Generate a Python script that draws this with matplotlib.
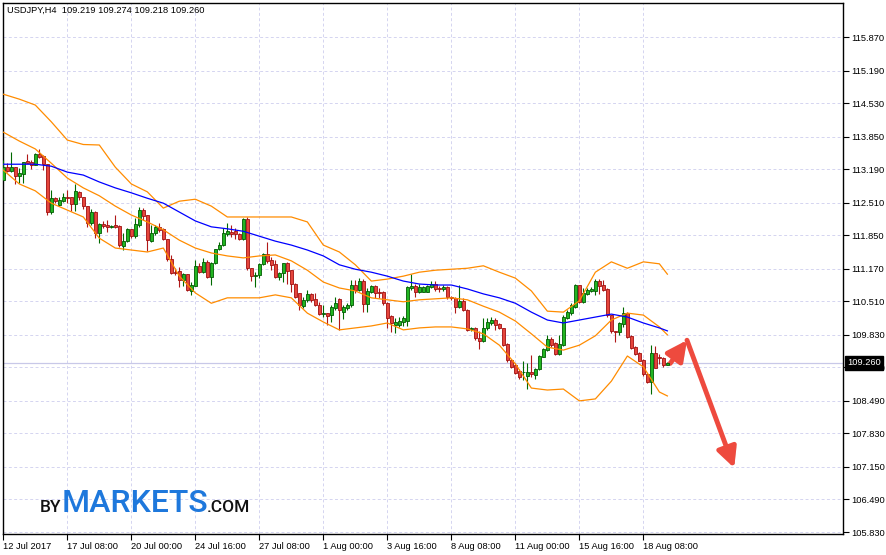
import numpy as np
import matplotlib.pyplot as plt
import matplotlib.patheffects as pe
from matplotlib.transforms import blended_transform_factory

# USDJPY H4 candles, oldest first
opens = [
    112.98, 113.23, 113.16, 113.23, 113.06, 113.10, 113.35, 113.33, 113.28, 113.49,
    113.46, 113.29, 112.33, 112.60, 112.46, 112.54, 112.63, 112.62, 112.48, 112.73,
    112.62, 112.44, 112.09, 112.33, 111.89, 112.07, 112.06, 112.02, 112.06, 112.04,
    111.63, 111.73, 111.97, 111.84, 112.06, 112.36, 112.26, 111.74, 111.90, 112.02,
    111.97, 111.77, 111.36, 111.11, 111.12, 110.94, 111.06, 110.72, 110.83, 111.22,
    111.10, 111.30, 111.01, 111.28, 111.57, 111.65, 111.87, 111.92, 111.93, 111.87,
    111.77, 112.17, 111.18, 111.02, 111.04, 111.27, 111.47, 111.35, 111.26, 111.01,
    111.09, 111.28, 111.14, 110.86, 110.67, 110.42, 110.54, 110.66, 110.55, 110.43,
    110.26, 110.28, 110.23, 110.38, 110.55, 110.30, 110.38, 110.43, 110.85, 110.74,
    110.92, 110.45, 110.70, 110.82, 110.69, 110.70, 110.47, 110.21, 110.03, 110.03,
    110.10, 110.12, 110.77, 110.82, 110.70, 110.70, 110.70, 110.79, 110.87, 110.77,
    110.75, 110.79, 110.60, 110.58, 110.39, 110.52, 110.33, 109.95, 109.97, 109.77,
    109.70, 109.96, 110.06, 110.13, 110.05, 109.96, 109.64, 109.32, 109.22, 109.10,
    109.07, 109.00, 109.08, 109.01, 109.14, 109.39, 109.52, 109.74, 109.66, 109.44,
    109.62, 110.18, 110.27, 110.40, 110.84, 110.50, 110.66, 110.72, 110.72, 110.92,
    110.84, 110.75, 110.23, 109.90, 109.88, 110.04, 110.27, 109.81, 109.59, 109.47,
    109.32, 109.03, 108.88, 109.47, 109.39, 109.35, 109.219,
]
highs = [
    113.37, 113.32, 113.54, 113.23, 113.21, 113.34, 113.50, 113.37, 113.52, 113.59,
    113.48, 113.29, 112.77, 112.63, 112.63, 112.70, 112.77, 112.62, 112.88, 112.75,
    112.63, 112.45, 112.39, 112.34, 112.09, 112.14, 112.16, 112.06, 112.26, 112.05,
    111.89, 111.99, 111.98, 112.19, 112.43, 112.41, 112.27, 112.06, 112.06, 112.09,
    111.99, 111.78, 111.45, 111.18, 111.21, 111.09, 111.07, 110.91, 111.35, 111.28,
    111.38, 111.35, 111.31, 111.58, 111.72, 111.99, 112.09, 112.06, 111.99, 111.90,
    112.19, 112.21, 111.18, 111.11, 111.29, 111.48, 111.72, 111.41, 111.35, 111.11,
    111.29, 111.31, 111.14, 110.89, 110.67, 110.60, 110.74, 110.68, 110.67, 110.50,
    110.43, 110.28, 110.43, 110.60, 110.57, 110.43, 110.47, 110.94, 110.94, 110.99,
    110.97, 110.77, 110.84, 110.85, 110.77, 110.72, 110.50, 110.23, 110.18, 110.20,
    110.22, 110.81, 111.06, 110.87, 110.87, 110.83, 110.85, 110.92, 110.92, 110.81,
    110.85, 110.81, 110.62, 110.60, 110.84, 110.58, 110.35, 109.99, 109.99, 109.90,
    110.18, 110.18, 110.20, 110.18, 110.06, 109.97, 109.66, 109.34, 109.25, 109.14,
    109.29, 109.25, 109.42, 109.16, 109.42, 109.57, 109.83, 109.79, 109.68, 109.83,
    110.23, 110.33, 110.48, 110.87, 110.85, 110.77, 110.77, 110.79, 110.96, 110.96,
    110.94, 110.77, 110.24, 109.91, 110.10, 110.39, 110.29, 109.83, 109.61, 109.49,
    109.34, 109.05, 109.62, 109.61, 109.45, 109.39, 109.274,
]
lows = [
    112.97, 113.14, 113.14, 112.89, 112.90, 112.90, 113.31, 113.19, 113.27, 113.41,
    113.17, 112.26, 112.29, 112.50, 112.44, 112.53, 112.51, 112.35, 112.35, 112.56,
    112.39, 112.01, 112.06, 111.79, 111.70, 111.99, 111.92, 111.99, 111.99, 111.62,
    111.55, 111.72, 111.79, 111.79, 112.01, 112.16, 111.52, 111.72, 111.85, 111.92,
    111.75, 111.33, 111.06, 111.04, 110.79, 110.81, 110.72, 110.64, 110.81, 111.08,
    111.08, 110.99, 110.85, 111.27, 111.55, 111.63, 111.84, 111.82, 111.77, 111.75,
    111.75, 111.14, 110.93, 110.79, 110.99, 111.25, 111.28, 111.14, 110.99, 110.95,
    110.91, 110.86, 110.69, 110.57, 110.33, 110.37, 110.50, 110.50, 110.42, 110.23,
    110.20, 110.03, 110.10, 110.33, 109.93, 110.16, 110.33, 110.40, 110.67, 110.72,
    110.30, 110.30, 110.67, 110.57, 110.57, 110.43, 109.96, 109.88, 109.86, 109.99,
    110.01, 110.01, 110.74, 110.60, 110.67, 110.69, 110.69, 110.77, 110.72, 110.70,
    110.72, 110.56, 110.54, 110.27, 110.37, 110.31, 109.91, 109.90, 109.72, 109.54,
    109.68, 109.93, 110.03, 109.93, 109.94, 109.61, 109.27, 109.16, 109.03, 108.93,
    108.91, 108.74, 108.98, 108.93, 109.12, 109.37, 109.50, 109.59, 109.42, 109.42,
    109.61, 110.15, 110.24, 110.38, 110.48, 110.47, 110.64, 110.70, 110.64, 110.65,
    110.72, 110.20, 109.87, 109.68, 109.83, 109.99, 109.77, 109.54, 109.42, 109.29,
    109.00, 108.85, 108.62, 109.15, 109.23, 109.18, 109.218,
]
closes = [
    113.23, 113.16, 113.23, 113.06, 113.11, 113.34, 113.32, 113.28, 113.49, 113.44,
    113.29, 112.33, 112.60, 112.54, 112.56, 112.63, 112.61, 112.48, 112.75, 112.63,
    112.44, 112.09, 112.33, 111.89, 112.07, 112.04, 112.01, 112.04, 112.02, 111.65,
    111.73, 111.97, 111.84, 112.07, 112.36, 112.24, 111.75, 111.90, 112.02, 111.95,
    111.77, 111.36, 111.09, 111.09, 110.94, 111.06, 110.74, 110.84, 111.22, 111.10,
    111.30, 111.01, 111.28, 111.57, 111.65, 111.89, 111.94, 111.87, 111.87, 111.77,
    112.17, 111.18, 111.02, 111.05, 111.27, 111.47, 111.33, 111.25, 111.01, 111.09,
    111.28, 111.13, 110.86, 110.59, 110.43, 110.54, 110.66, 110.54, 110.43, 110.26,
    110.28, 110.22, 110.40, 110.47, 110.33, 110.40, 110.43, 110.85, 110.74, 110.92,
    110.45, 110.72, 110.82, 110.68, 110.68, 110.47, 110.18, 110.06, 110.10, 110.11,
    110.18, 110.79, 110.82, 110.70, 110.79, 110.79, 110.81, 110.87, 110.75, 110.75,
    110.79, 110.60, 110.57, 110.39, 110.52, 110.33, 109.93, 109.97, 109.76, 109.70,
    109.96, 110.08, 110.13, 110.03, 109.96, 109.62, 109.32, 109.18, 109.05, 108.98,
    109.08, 109.08, 109.03, 109.14, 109.40, 109.54, 109.74, 109.62, 109.44, 109.64,
    110.20, 110.29, 110.43, 110.84, 110.50, 110.67, 110.74, 110.76, 110.92, 110.81,
    110.74, 110.23, 109.90, 109.88, 110.06, 110.27, 109.79, 109.57, 109.45, 109.30,
    109.03, 108.88, 109.47, 109.16, 109.35, 109.22, 109.260,
]

# indicator lines, read every 4th bar (last one at bar 166)
band_bars = list(range(0, 165, 4)) + [166]
bb_upper = [
    114.71, 114.61, 114.49, 114.15, 113.78, 113.69, 113.68, 113.23, 112.89, 112.73,
    112.40, 112.54, 112.58, 112.44, 112.22, 112.22, 112.22, 112.22, 112.22, 112.12,
    111.65, 111.51, 111.25, 110.92, 110.96, 111.02, 111.10, 111.14, 111.16, 111.18,
    111.23, 111.10, 110.98, 110.72, 110.31, 110.29, 110.52, 111.10, 111.31, 111.18,
    111.31, 111.27, 111.06,
]
bb_middle = [
    113.94, 113.76, 113.60, 113.31, 113.01, 112.81, 112.65, 112.44, 112.26, 112.12,
    111.96, 111.75, 111.59, 111.49, 111.43, 111.39, 111.43, 111.45, 111.33, 111.14,
    110.90, 110.78, 110.72, 110.58, 110.54, 110.50, 110.54, 110.56, 110.58, 110.54,
    110.41, 110.29, 110.11, 109.85, 109.58, 109.52, 109.62, 109.81, 110.13, 110.27,
    110.23, 109.99, 109.83,
]
bb_lower = [
    113.17, 112.89, 112.75, 112.50, 112.36, 112.22, 111.79, 111.59, 111.55, 111.51,
    111.59, 111.02, 110.68, 110.47, 110.58, 110.58, 110.58, 110.64, 110.58, 110.27,
    110.09, 109.93, 109.97, 110.01, 110.07, 109.93, 109.97, 109.99, 109.99, 109.95,
    109.85, 109.62, 109.24, 108.75, 108.71, 108.73, 108.49, 108.53, 108.89, 109.40,
    109.18, 108.67, 108.59,
]
ma_line = [
    113.29, 113.29, 113.29, 113.25, 113.13, 113.07, 112.93, 112.81, 112.71, 112.60,
    112.50, 112.32, 112.14, 112.02, 111.98, 111.93, 111.83, 111.73, 111.65, 111.55,
    111.43, 111.25, 111.16, 111.10, 111.02, 110.92, 110.86, 110.84, 110.84, 110.76,
    110.66, 110.58, 110.47, 110.29, 110.13, 110.07, 110.13, 110.19, 110.25, 110.19,
    110.07, 109.97, 109.91,
]

price_ticks = [115.870, 115.190, 114.530, 113.850, 113.190, 112.510, 111.850, 111.170,
               110.510, 109.830, 109.170, 108.490, 107.830, 107.150, 106.490, 105.830]
time_ticks = list(range(0, 161, 16))
time_labels = ["12 Jul 2017", "17 Jul 08:00", "20 Jul 00:00", "24 Jul 16:00",
               "27 Jul 08:00", "1 Aug 00:00", "3 Aug 16:00", "8 Aug 08:00",
               "11 Aug 00:00", "15 Aug 16:00", "18 Aug 08:00"]
last_price = 109.260

plt.rcParams['font.family'] = ['Liberation Sans', 'DejaVu Sans']

W, H = 886, 555
fig = plt.figure(figsize=(W / 100, H / 100), dpi=100)
ax = fig.add_axes([3 / W, 21 / H, 840 / W, 531 / H])

o = np.array(opens)
hi = np.array(highs)
lo = np.array(lows)
c = np.array(closes)
bars = np.arange(len(o))
up = c >= o

ax.vlines(bars[up], lo[up], hi[up], color='#006a00', lw=0.8, zorder=3)
ax.vlines(bars[~up], lo[~up], hi[~up], color='#b01818', lw=0.8, zorder=3)
ax.bar(bars[up], (c - o)[up], bottom=o[up], width=0.62, color='#22b522',
       edgecolor='#005a00', lw=0.6, zorder=4)
ax.bar(bars[~up], (c - o)[~up], bottom=o[~up], width=0.62, color='#e5453c',
       edgecolor='#a01010', lw=0.6, zorder=4)

ax.plot(band_bars, bb_upper, color='#ff8c00', lw=0.9, zorder=5)
ax.plot(band_bars, bb_middle, color='#ff8c00', lw=0.9, zorder=5)
ax.plot(band_bars, bb_lower, color='#ff8c00', lw=0.9, zorder=5)
ax.plot(band_bars, ma_line, color='#0000ff', lw=0.9, zorder=5)

ax.axhline(last_price, color='#c8c8e8', lw=0.9, zorder=1)

ax.set_xlim(-0.075, 209.9)
ax.set_ylim(105.79, 116.56)

ax.set_yticks(price_ticks)
ax.set_yticklabels(["%.3f" % p for p in price_ticks])
ax.yaxis.tick_right()
ax.set_xticks(time_ticks)
ax.set_xticklabels(time_labels, ha='left')
ax.tick_params(axis='both', direction='out', length=4, width=0.8, labelsize=6.7,
               colors='black')
ax.tick_params(axis='y', pad=2)
ax.tick_params(axis='x', pad=2)

ax.grid(True, color='#d4d4f0', linestyle=(0, (3, 2.5)), lw=0.7)
ax.set_axisbelow(True)
for s in ax.spines.values():
    s.set_color('black')
    s.set_linewidth(1)

# current price box on the price scale
trans = blended_transform_factory(ax.transAxes, ax.transData)
ax.text(1.0 + 4 / 840, last_price, "%.3f" % last_price, transform=trans,
        color='white', fontsize=6.7, va='center', ha='left', zorder=10,
        bbox=dict(boxstyle='square,pad=0.25', fc='black', ec='black'), clip_on=False)

fig.text(7 / W, 1 - 10 / H, "USDJPY,H4  109.219 109.274 109.218 109.260",
         fontsize=6.7, va='center', ha='left')

# forecast arrows
shadow = [pe.withSimplePatchShadow(offset=(1.5, -1.5), shadow_rgbFace='#888888', alpha=0.4)]
a1 = ax.annotate('', xy=(170.9, 109.72), xytext=(166.7, 109.25),
                 arrowprops=dict(arrowstyle='-|>,head_length=1.0,head_width=0.5',
                                 lw=3.5, color='#ee4a3e', shrinkA=0, shrinkB=0,
                                 mutation_scale=12))
a2 = ax.annotate('', xy=(182.7, 107.13), xytext=(170.9, 109.72),
                 arrowprops=dict(arrowstyle='-|>,head_length=1.0,head_width=0.5',
                                 lw=3.5, color='#ee4a3e', shrinkA=0, shrinkB=0,
                                 mutation_scale=12))
a1.arrow_patch.set_path_effects(shadow)
a2.arrow_patch.set_path_effects(shadow)

# logo
fig.text(61 / W, 1 - 512 / H, "BY", fontsize=12.5, family='Roboto', weight='medium',
         color='#111111', ha='right', va='baseline')
fig.text(62 / W, 1 - 512 / H, "MARKETS", fontsize=23, family='Roboto', weight='medium',
         color='#1e78dc', ha='left', va='baseline')
fig.text(207 / W, 1 - 512 / H, ".COM", fontsize=12.5, family='Roboto', weight='medium',
         color='#111111', ha='left', va='baseline')

plt.savefig('out.png', dpi=100)
